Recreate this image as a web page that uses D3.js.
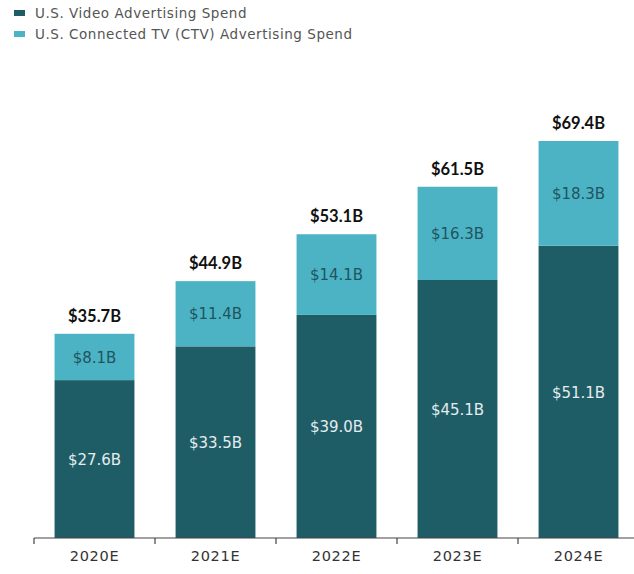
<!DOCTYPE html>
<html><head><meta charset="utf-8">
<script src="https://cdn.jsdelivr.net/npm/d3@7"></script>
<style>body{margin:0;background:#fff}svg{display:block}</style>
</head><body>
<svg id="c" width="634" height="574"></svg>
<script>
const categories = ["2020E","2021E","2022E","2023E","2024E"];
const videoSpend = [27.6,33.5,39.0,45.1,51.1];
const ctvSpend = [8.1,11.4,14.1,16.3,18.3];
const totalLabels = ["$35.7B","$44.9B","$53.1B","$61.5B","$69.4B"];
const seriesNames = ["U.S. Video Advertising Spend","U.S. Connected TV (CTV) Advertising Spend"];
const colors = ["#1f5d66","#4cb3c5"];

const svg = d3.select("#c");
const font = "'DejaVu Sans', sans-serif";
const boldFont = "Lato, 'Open Sans', sans-serif";
const x = d3.scaleBand().domain(categories).range([34,639]).paddingInner(0.34).paddingOuter(0.17);
const y = d3.scaleLinear().domain([0,69.4]).range([538,141]);

const rows = categories.map((c,i)=>({cat:c, video:videoSpend[i], ctv:ctvSpend[i]}));
const stack = d3.stack().keys(["video","ctv"])(rows);

const g = svg.append("g");
stack.forEach((s,si)=>{
  g.selectAll(null).data(s).enter().append("rect")
    .attr("x",d=>x(d.data.cat))
    .attr("width",x.bandwidth())
    .attr("y",d=>y(d[1]))
    .attr("height",d=>y(d[0])-y(d[1]))
    .attr("fill",colors[si]);
  g.selectAll(null).data(s).enter().append("text")
    .attr("x",d=>x(d.data.cat)+x.bandwidth()/2)
    .attr("y",d=>(y(d[0])+y(d[1]))/2)
    .attr("dy","0.38em")
    .attr("text-anchor","middle")
    .attr("font-family",font)
    .attr("font-size",15)
    .attr("fill", si===0 ? "#e3ecee" : "#1f5560")
    .text(d=>"$"+(d[1]-d[0]).toFixed(1)+"B");
});
g.selectAll(null).data(rows).enter().append("text")
  .attr("x",d=>x(d.cat)+x.bandwidth()/2)
  .attr("y",(d,i)=>y(d.video+d.ctv)-12)
  .attr("text-anchor","middle")
  .attr("font-family",boldFont)
  .attr("font-size",16.5)
  .attr("font-weight","bold")
  .attr("fill","#111")
  .text((d,i)=>totalLabels[i]);

// axis
const ax = svg.append("g").attr("transform","translate(0,538)");
ax.append("line").attr("x1",34).attr("x2",634).attr("y1",0).attr("y2",0).attr("stroke","#444").attr("stroke-width",1.2);
ax.selectAll(null).data(categories).enter().append("line")
  .attr("x1",(d,i)=>34+i*x.step()).attr("x2",(d,i)=>34+i*x.step())
  .attr("y1",0).attr("y2",6).attr("stroke","#444").attr("stroke-width",1.2);
ax.selectAll(null).data(categories).enter().append("text")
  .attr("x",d=>x(d)+x.bandwidth()/2)
  .attr("y",23)
  .attr("text-anchor","middle")
  .attr("font-family",font)
  .attr("font-size",14.5)
  .attr("letter-spacing",0.7)
  .attr("fill","#333")
  .text(d=>d);

// legend
const lg = svg.append("g");
seriesNames.forEach((n,i)=>{
  lg.append("rect").attr("x",14).attr("y",10+i*21).attr("width",11).attr("height",6).attr("fill",colors[i]);
  lg.append("text").attr("x",35).attr("y",13+i*21).attr("dy","0.35em")
    .attr("font-family",font).attr("font-size",13.5).attr("letter-spacing",0.55).attr("fill","#555").text(n);
});
</script>
</body></html>
